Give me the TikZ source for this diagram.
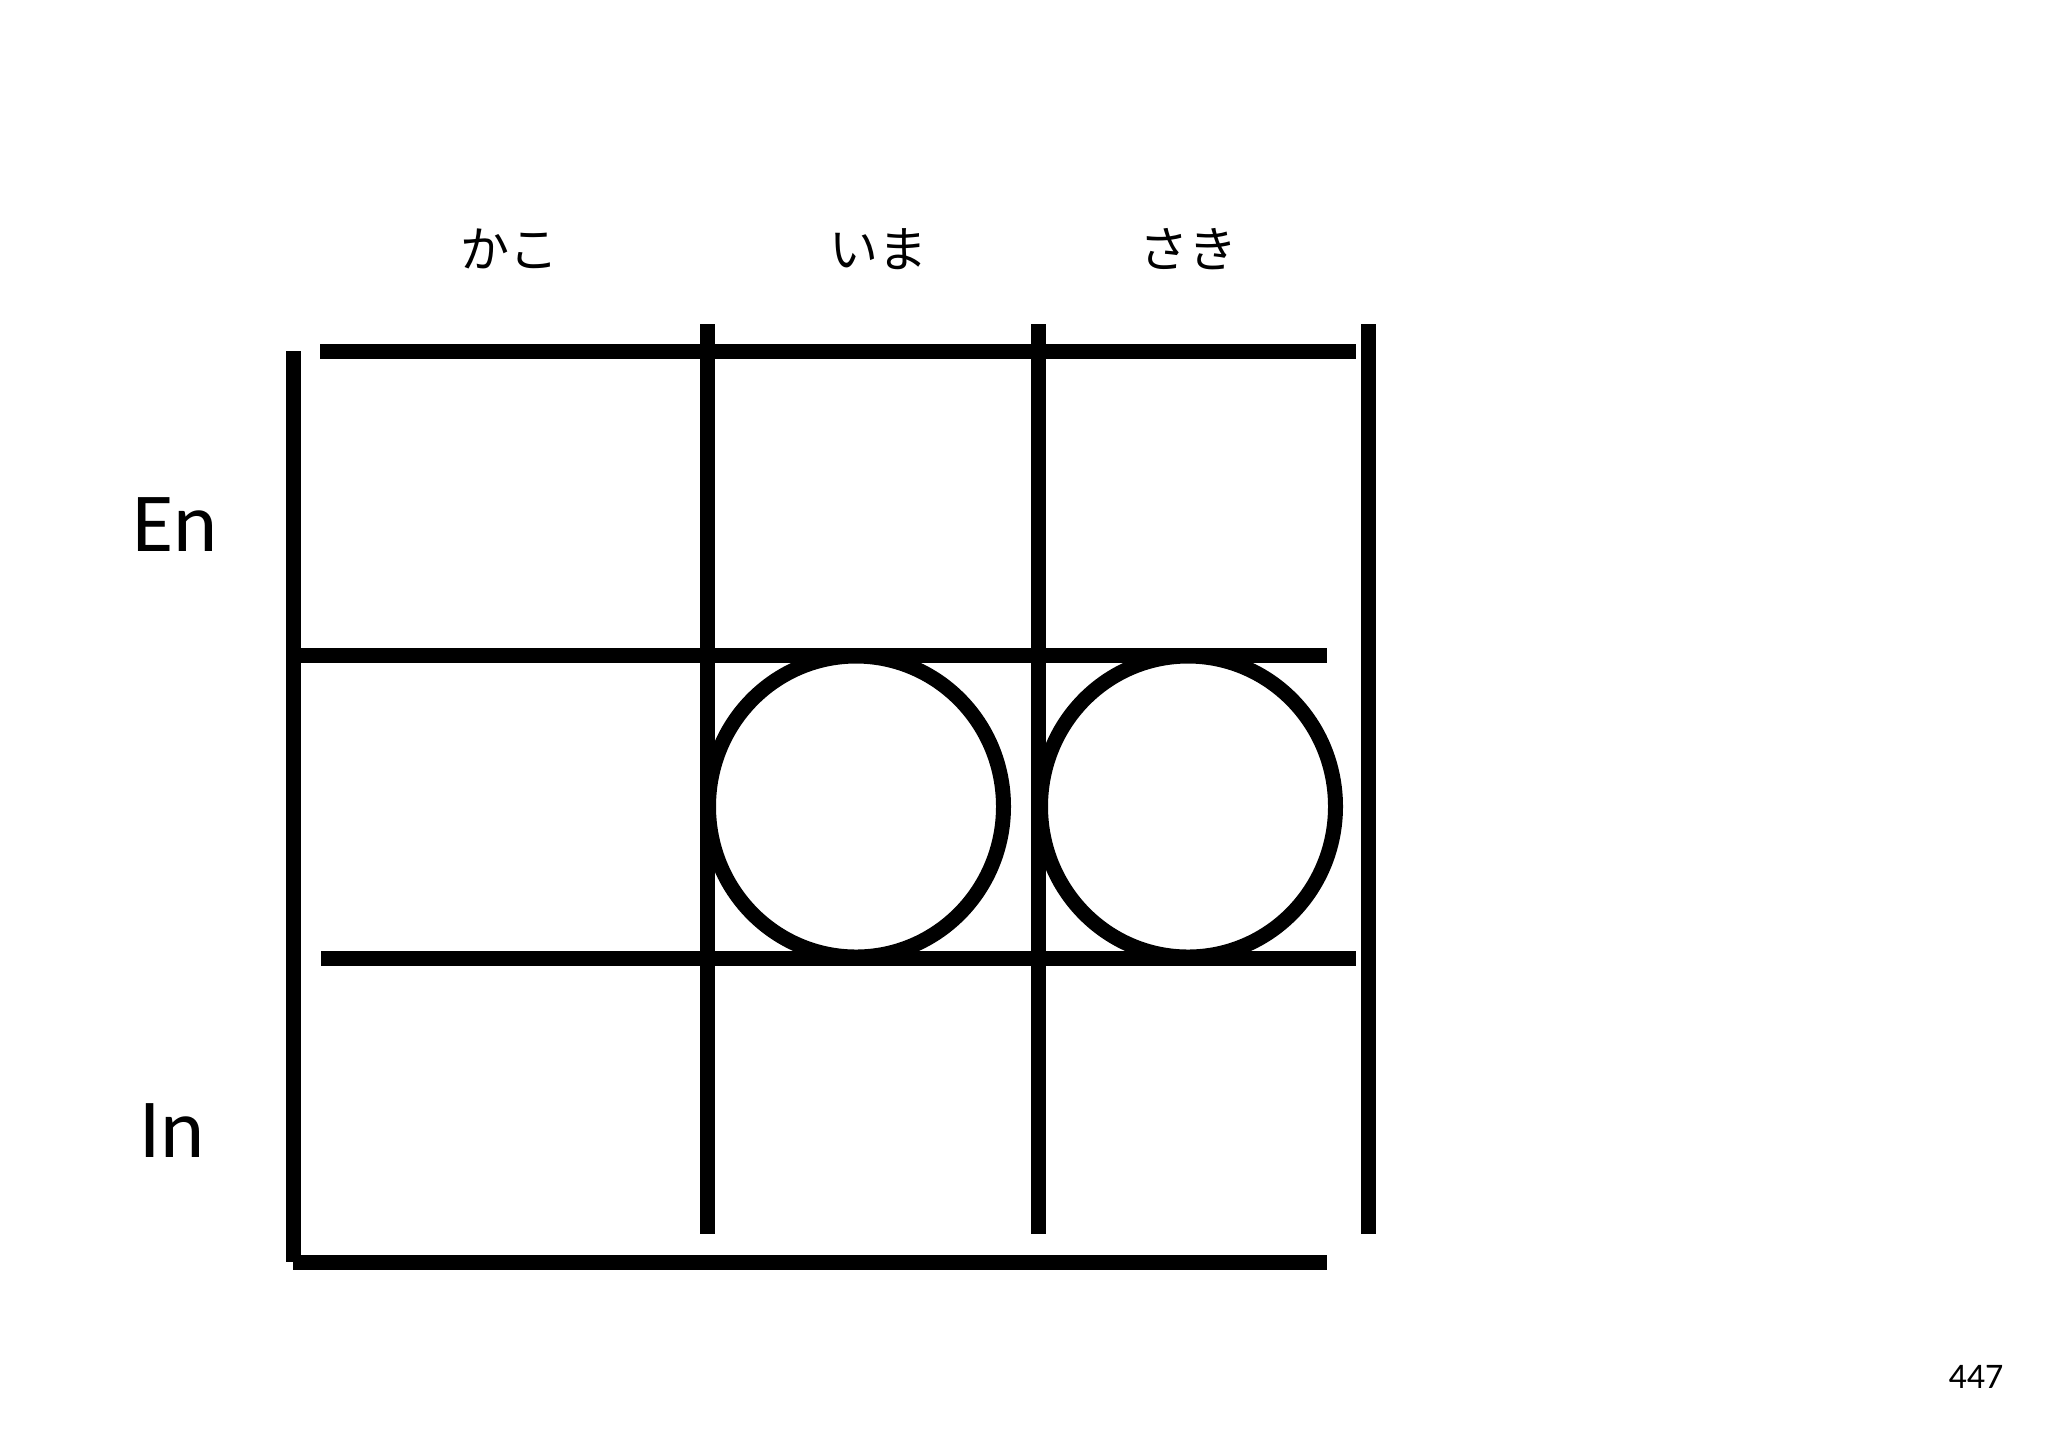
\documentclass[tikz,border=0pt]{standalone}
\usepackage{fontspec}
\setmainfont{Carlito}
\newfontfamily\jpfont{Noto Sans CJK JP}
\begin{document}
\begin{tikzpicture}[x=0.5pt,y=-0.5pt,
  gridline/.style={line width=7.5pt,line cap=butt},
  ring/.style={line width=7.5pt},
  jplabel/.style={font=\jpfont\fontsize{24.5}{28}\selectfont,inner sep=0pt},
  rowlabel/.style={font=\fontsize{42}{48}\selectfont,inner sep=0pt},
  pagenum/.style={font=\fontsize{18}{22}\selectfont,inner sep=0pt}]
\useasboundingbox (0,0) rectangle (2048,1448);
% vertical lines
\draw[gridline] (293.5,351) -- (293.5,1262);
\draw[gridline] (707,324) -- (707,1234);
\draw[gridline] (1038,324) -- (1038,1234);
\draw[gridline] (1368,324) -- (1368,1234);
% horizontal lines
\draw[gridline] (320,351) -- (1356,351);
\draw[gridline] (300,655) -- (1327,655);
\draw[gridline] (321,958.5) -- (1356,958.5);
\draw[gridline] (293,1262) -- (1327,1262);
% circles
\draw[ring] (856,806.5) ellipse[x radius=147.5,y radius=150.5];
\draw[ring] (1188,806.5) ellipse[x radius=147.5,y radius=150.5];
% labels
\node[jplabel] (kako) at (509,249) {かこ};
\node[jplabel] (ima) at (878,249) {いま};
\node[jplabel] (saki) at (1188,249) {さき};
\node[rowlabel] (en) at (175,525) {En};
\node[rowlabel] (in) at (172,1131) {In};
\node[pagenum] (num) at (1976,1377) {447};
\end{tikzpicture}
\end{document}
